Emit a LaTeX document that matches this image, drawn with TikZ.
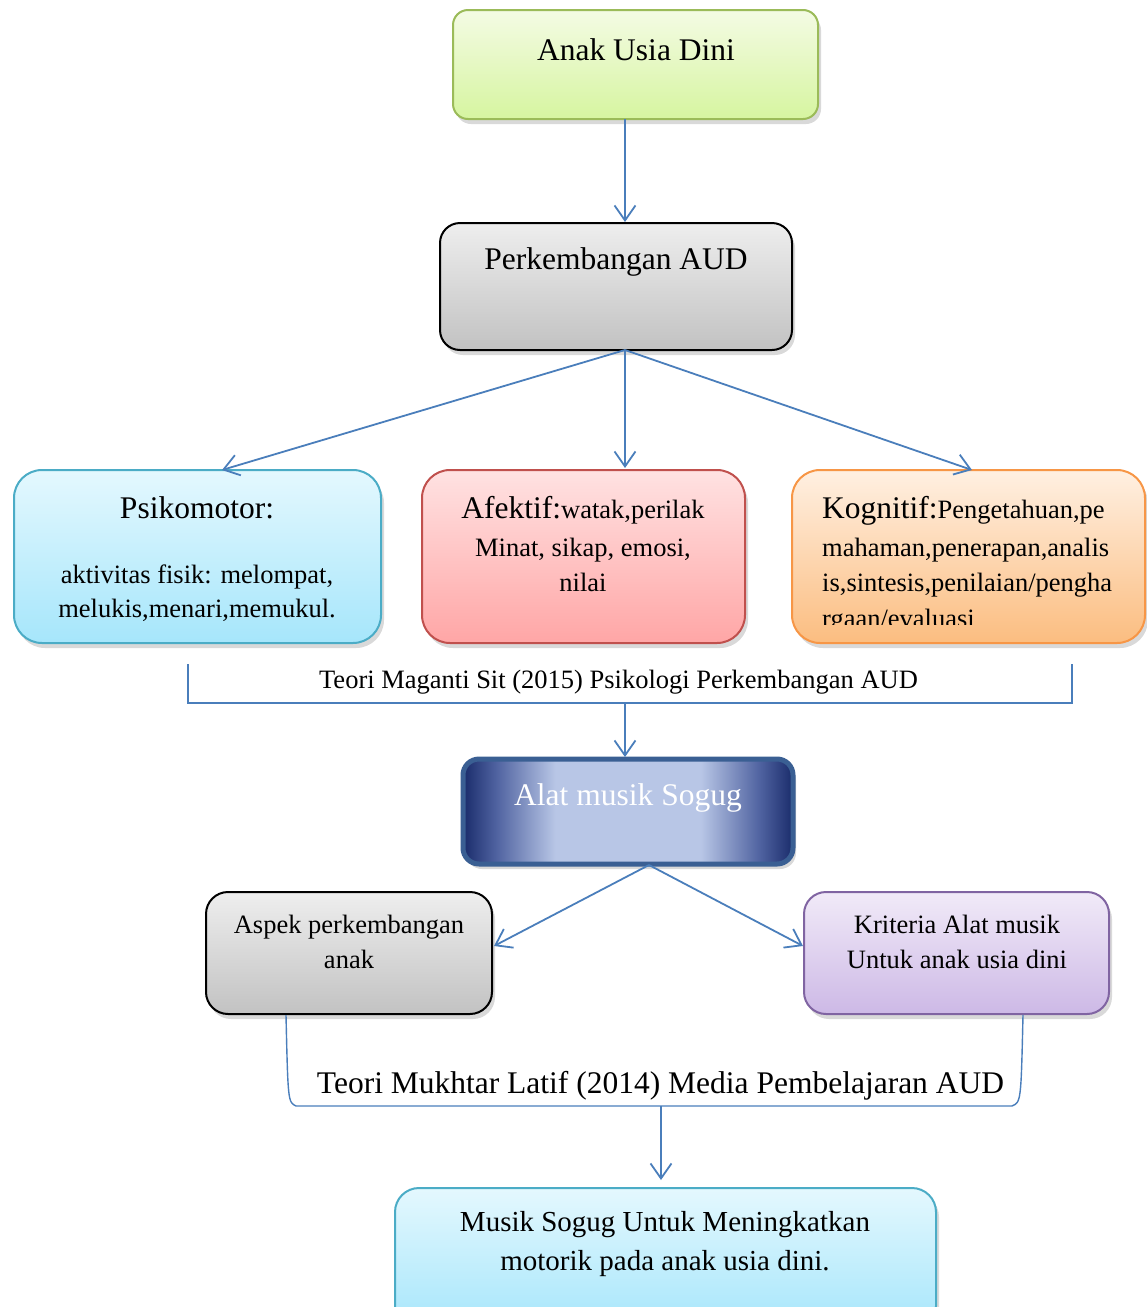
\documentclass[tikz,border=0pt]{standalone}
\usepackage{fontspec}
\setmainfont{Liberation Serif}
\usetikzlibrary{arrows.meta,shadows}
\definecolor{arr}{HTML}{4A7EBB}
\definecolor{gnB}{HTML}{9BBB59}\definecolor{gnT}{HTML}{F4FBE4}\definecolor{gnD}{HTML}{D6F5A0}
\definecolor{gyT}{HTML}{EEEEEE}\definecolor{gyD}{HTML}{C2C2C2}
\definecolor{cyB}{HTML}{4BACC6}\definecolor{cyT}{HTML}{E4F8FE}\definecolor{cyD}{HTML}{A6E6FB}
\definecolor{pkB}{HTML}{C0504D}\definecolor{pkT}{HTML}{FFE2E2}\definecolor{pkD}{HTML}{FFA6A6}
\definecolor{orB}{HTML}{F79646}\definecolor{orT}{HTML}{FFF0E2}\definecolor{orD}{HTML}{FBBD80}
\definecolor{puB}{HTML}{8064A2}\definecolor{puT}{HTML}{F1EAF8}\definecolor{puD}{HTML}{CDB9E6}
\definecolor{sdk}{HTML}{1A2C6B}\definecolor{smd}{HTML}{4F62A0}\definecolor{slt}{HTML}{B8C6E6}
\definecolor{sbd}{HTML}{3A5F93}
\pgfdeclarehorizontalshading{sogugshade}{100bp}{color(0bp)=(sdk); color(25bp)=(sdk); color(30bp)=(smd); color(39bp)=(slt); color(61bp)=(slt); color(70bp)=(smd); color(75bp)=(sdk); color(100bp)=(sdk)}
\newcommand\fzBig{\fontsize{31.5}{36}\selectfont}
\newcommand\fzSm{\fontsize{26.5}{32}\selectfont}
\newcommand\fzMus{\fontsize{29}{34}\selectfont}
\tikzset{
  box/.style={rectangle, inner sep=0pt, line width=2pt,
    drop shadow={opacity=0.3, shadow xshift=3pt, shadow yshift=-5pt}},
  txt/.style={inner sep=0pt, anchor=base},
  txtl/.style={inner sep=0pt, anchor=base west},
  conn/.style={draw=arr, line width=1.8pt, -{Straight Barb[length=15pt,width=21pt,line width=1.8pt]}},
  brk/.style={draw=arr, line width=1.4pt},
}
\begin{document}
\begin{tikzpicture}[x=1pt,y=-1pt]
\useasboundingbox (0,0) rectangle (1147,1307);
% boxes
\node[box, draw=gnB, top color=gnT, bottom color=gnD, rounded corners=15pt, minimum width=365pt, minimum height=109pt] (anak) at (635.5,64.5) {};
\node[box, draw=black, top color=gyT, bottom color=gyD, rounded corners=20pt, minimum width=352pt, minimum height=127pt] (perk) at (616,286.5) {};
\node[box, draw=cyB, top color=cyT, bottom color=cyD, rounded corners=28pt, minimum width=367pt, minimum height=173pt] (psi) at (197.5,556.5) {};
\node[box, draw=pkB, top color=pkT, bottom color=pkD, rounded corners=28pt, minimum width=323pt, minimum height=173pt] (afek) at (583.5,556.5) {};
\node[box, draw=orB, top color=orT, bottom color=orD, rounded corners=28pt, minimum width=353pt, minimum height=173pt] (kogn) at (968.5,556.5) {};
\node[box, draw=sbd, line width=5pt, shading=sogugshade, rounded corners=16pt, minimum width=330pt, minimum height=105pt] (alat) at (628,811.5) {};
\node[box, draw=black, top color=gyT, bottom color=gyD, rounded corners=22pt, minimum width=286pt, minimum height=122pt] (aspek) at (349,953) {};
\node[box, draw=puB, top color=puT, bottom color=puD, rounded corners=22pt, minimum width=305pt, minimum height=122pt] (krit) at (956.5,953) {};
\node[box, draw=cyB, top color=cyT, bottom color=cyD, rounded corners=24pt, minimum width=541pt, minimum height=142pt] (musik) at (665.5,1259) {};
% texts
\node[txt, font=\fzBig] (tanak) at (636,60) {Anak Usia Dini};
\node[txt, font=\fzBig] (tperk) at (616,269) {Perkembangan AUD};
\node[txt, font=\fzBig] (tpsi1) at (197,518) {Psikomotor:};
\node[txt, font=\fzSm] (tpsi2) at (197,583) {aktivitas fisik: melompat,};
\node[txt, font=\fzSm] (tpsi3) at (197,617) {melukis,menari,memukul.};
\node[txt] (taf1) at (583,518) {{\fzBig Afektif:}{\fzSm watak,perilak}};
\node[txt, font=\fzSm] (taf2) at (583,556) {Minat, sikap, emosi,};
\node[txt, font=\fzSm] (taf3) at (583,591) {nilai};
\begin{scope}
\clip (790,470) rectangle (1145,624);
\node[txtl] (tkg1) at (822,518) {{\fzBig Kognitif:}{\fzSm Pengetahuan,pe}};
\node[txtl, font=\fzSm] (tkg2) at (822,556) {mahaman,penerapan,analis};
\node[txtl, font=\fzSm] (tkg3) at (822,591) {is,sintesis,penilaian/pengha};
\node[txtl, font=\fzSm] (tkg4) at (822,627) {rgaan/evaluasi};
\end{scope}
\node[txt, font=\fzSm] (tmag) at (618.5,688) {Teori Maganti Sit (2015) Psikologi Perkembangan AUD};
\node[txt, font=\fzBig, text=white] (talat) at (628,805) {Alat musik Sogug};
\node[txt, font=\fzSm] (tasp1) at (349,933) {Aspek perkembangan};
\node[txt, font=\fzSm] (tasp2) at (349,968) {anak};
\node[txt, font=\fzSm] (tkr1) at (957,933) {Kriteria Alat musik};
\node[txt, font=\fzSm] (tkr2) at (957,968) {Untuk anak usia dini};
\node[txt, font=\fzBig] (tmuk) at (660.5,1093) {Teori Mukhtar Latif (2014) Media Pembelajaran AUD};
\node[txt, font=\fzMus] (tmus1) at (665,1231) {Musik Sogug Untuk Meningkatkan};
\node[txt, font=\fzMus] (tmus2) at (665,1270) {motorik pada anak usia dini.};
% connector points
\coordinate (c1) at (625,119);
\coordinate (c2) at (625,222);
\coordinate (c3) at (625,350);
\coordinate (psiTop) at (222,470);
\coordinate (afTop) at (625,468);
\coordinate (kgTop) at (972,470);
\coordinate (b1L) at (188,664);
\coordinate (b1R) at (1072,664);
\coordinate (b1M) at (625,703);
\coordinate (alTop) at (625,757);
\coordinate (alBot) at (649,865);
\coordinate (aspR) at (494,946);
\coordinate (krL) at (803,946);
\coordinate (b2L) at (286,1015);
\coordinate (b2R) at (1023,1015);
\coordinate (b2M) at (661,1106);
\coordinate (muTop) at (661,1180);
% connectors
\draw[conn] (c1) -- (c2);
\draw[conn] (c3) -- (psiTop);
\draw[conn] (c3) -- (afTop);
\draw[conn] (c3) -- (kgTop);
\draw[brk] (b1L) -- (b1L |- b1M) -- (b1R |- b1M) -- (b1R);
\draw[conn] (b1M) -- (alTop);
\draw[conn] (alBot) -- (aspR);
\draw[conn] (alBot) -- (krL);
\draw[brk] (b2L) .. controls (288,1102) .. (296,1106) -- (1012,1106) .. controls (1021,1102) .. (b2R);
\draw[conn] (b2M) -- (muTop);
\end{tikzpicture}
\end{document}
